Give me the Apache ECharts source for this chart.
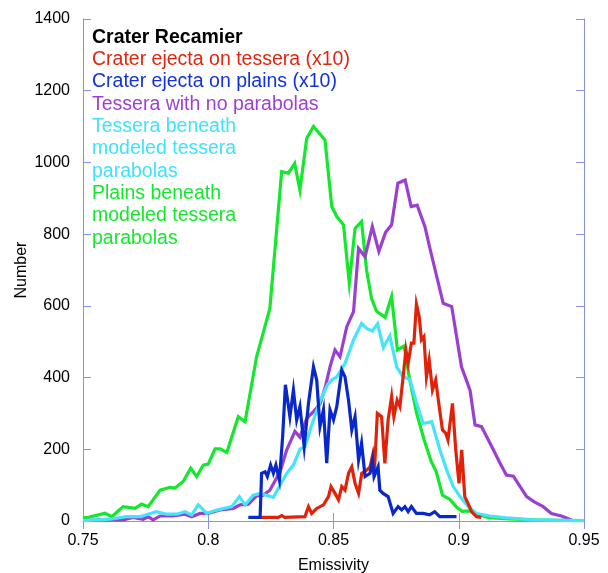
<!DOCTYPE html>
<html>
<head>
<meta charset="utf-8">
<title>Crater Recamier emissivity</title>
<script src="https://cdn.jsdelivr.net/npm/echarts@6/dist/echarts.min.js"></script>
<style>
  html, body { margin: 0; padding: 0; background: #fff; }
  #chart { width: 608px; height: 573px; }
</style>
</head>
<body>
<div id="chart"></div>
<script>
// x axis ticks / y axis ticks
const xTicks = [0.75, 0.8, 0.85, 0.9, 0.95]
const yTicks = [0, 200, 400, 600, 800, 1000, 1200, 1400]

const legendLines = [
  { text: 'Crater Recamier', color: '#000000', bold: true },
  { text: 'Crater ejecta on tessera (x10)', color: '#e0260e' },
  { text: 'Crater ejecta on plains (x10)', color: '#1232dc' },
  { text: 'Tessera with no parabolas', color: '#a040d2' },
  { text: 'Tessera beneath', color: '#3ee2fc' },
  { text: 'modeled tessera', color: '#3ee2fc' },
  { text: 'parabolas', color: '#3ee2fc' },
  { text: 'Plains beneath', color: '#14e82c' },
  { text: 'modeled tessera', color: '#14e82c' },
  { text: 'parabolas', color: '#14e82c' },
]

// [emissivity, number]
const plainsBeneath = [
  [0.750, 9], [0.7525, 11], [0.7588, 22], [0.7615, 12], [0.766, 40], [0.7708, 35],
  [0.7734, 47], [0.776, 40], [0.7808, 86], [0.7847, 94], [0.7867, 92], [0.790, 110],
  [0.793, 147], [0.7954, 124], [0.798, 156], [0.800, 159], [0.8027, 201], [0.8047, 201],
  [0.8074, 191], [0.812, 291], [0.8147, 277], [0.8193, 458], [0.8246, 593], [0.8293, 974],
  [0.832, 970], [0.8345, 997], [0.8366, 923], [0.8393, 1067], [0.842, 1100], [0.8466, 1063],
  [0.8493, 877], [0.8513, 849], [0.854, 826], [0.8563, 663], [0.8586, 816], [0.8612, 835],
  [0.8632, 700], [0.8652, 620], [0.8672, 585], [0.8706, 568], [0.8732, 626], [0.8755, 477],
  [0.8782, 488], [0.8802, 402], [0.8832, 300], [0.8862, 226], [0.889, 166], [0.891, 138],
  [0.8935, 72], [0.8965, 60], [0.8992, 38], [0.9014, 27], [0.9045, 28], [0.9071, 19],
  [0.912, 9], [0.92, 6], [0.93, 3], [0.94, 2], [0.95, 1],
]

const tesseraNoParabolas = [
  [0.750, 1], [0.7568, 3], [0.766, 3], [0.770, 10], [0.774, 5], [0.776, 12], [0.778, 3],
  [0.7808, 14], [0.786, 14], [0.7907, 19], [0.7934, 12], [0.7967, 21], [0.800, 21],
  [0.8047, 31], [0.810, 35], [0.8127, 45], [0.816, 47], [0.8193, 70], [0.822, 72],
  [0.8246, 86], [0.8287, 138], [0.8313, 198], [0.8346, 250], [0.8366, 234], [0.8393, 286],
  [0.842, 305], [0.8446, 326], [0.8466, 370], [0.8486, 430], [0.8506, 477], [0.8526, 458],
  [0.8553, 542], [0.858, 584], [0.860, 760], [0.8626, 737], [0.8655, 821], [0.8681, 752],
  [0.8708, 805], [0.8732, 826], [0.8757, 942], [0.8786, 951], [0.881, 877], [0.8834, 881],
  [0.8865, 821], [0.8885, 760], [0.8938, 607], [0.8972, 598], [0.9011, 430], [0.9045, 365],
  [0.9065, 268], [0.9091, 263], [0.9125, 217], [0.9165, 161], [0.919, 128], [0.9218, 125],
  [0.9271, 68], [0.930, 54], [0.9337, 40], [0.937, 21], [0.941, 14], [0.945, 3],
]

const tesseraBeneath = [
  [0.750, 1], [0.7608, 5], [0.7674, 12], [0.7727, 12], [0.7794, 26], [0.7834, 19],
  [0.7874, 19], [0.7907, 26], [0.7934, 17], [0.796, 45], [0.7994, 21], [0.8027, 29],
  [0.806, 35], [0.8094, 40], [0.8124, 68], [0.8147, 45], [0.818, 72], [0.8207, 77],
  [0.826, 66], [0.8313, 133], [0.834, 156], [0.8366, 200], [0.8386, 207], [0.8413, 268],
  [0.8446, 333], [0.8476, 380], [0.8493, 393], [0.8513, 402], [0.8546, 440], [0.858, 505],
  [0.8612, 551], [0.8632, 537], [0.8655, 530], [0.8676, 550], [0.8699, 484], [0.8725, 516],
  [0.8752, 430], [0.8778, 402], [0.8805, 395], [0.8832, 328], [0.8858, 272], [0.8892, 277],
  [0.8925, 198], [0.8952, 142], [0.8978, 96], [0.9005, 68], [0.9038, 40], [0.9071, 21],
  [0.9125, 14], [0.919, 9], [0.9297, 3], [0.95, 1],
]

const ejectaTessera = [
  [0.8207, 10], [0.828, 10], [0.8293, 15], [0.8306, 10], [0.8386, 12], [0.840, 40],
  [0.8413, 21], [0.8433, 35], [0.846, 45], [0.848, 68], [0.849, 96], [0.8506, 77],
  [0.852, 59], [0.8533, 96], [0.8546, 86], [0.856, 133], [0.8573, 151], [0.8586, 105],
  [0.860, 77], [0.8613, 133], [0.8633, 142], [0.8646, 151], [0.8658, 189], [0.8665, 161],
  [0.8675, 300], [0.8692, 291], [0.8705, 161], [0.8718, 282], [0.8732, 347], [0.8741, 291],
  [0.8754, 337], [0.8765, 319], [0.8778, 402], [0.8789, 477], [0.8798, 440], [0.8811, 496],
  [0.8821, 496], [0.8831, 605], [0.8842, 570], [0.8851, 505], [0.8861, 514], [0.8871, 402],
  [0.8882, 449], [0.8895, 365], [0.8908, 393], [0.8922, 319], [0.8935, 254], [0.8948, 245],
  [0.8957, 226], [0.8975, 328], [0.8988, 198], [0.9001, 105], [0.9012, 198], [0.9024, 68],
  [0.9037, 49], [0.9051, 26], [0.9071, 12], [0.909, 10],
]

const ejectaPlains = [
  [0.816, 10], [0.8207, 10], [0.8213, 133], [0.8227, 137], [0.8236, 124], [0.8249, 156],
  [0.826, 133], [0.827, 156], [0.8284, 114], [0.8297, 235], [0.8308, 380], [0.8313, 384],
  [0.8326, 291], [0.834, 365], [0.8353, 282], [0.8366, 319], [0.8383, 207], [0.840, 328],
  [0.842, 430], [0.8433, 393], [0.8446, 263], [0.846, 310], [0.8473, 161], [0.8486, 310],
  [0.850, 282], [0.8513, 319], [0.8533, 421], [0.8546, 402], [0.856, 337], [0.8573, 254],
  [0.8586, 291], [0.860, 170], [0.8612, 217], [0.8626, 124], [0.8646, 133], [0.8656, 170],
  [0.8662, 124], [0.8678, 151], [0.8685, 86], [0.8698, 77], [0.8718, 68], [0.8738, 21],
  [0.8758, 40], [0.8772, 31], [0.8785, 40], [0.8798, 26], [0.8811, 40], [0.8831, 21],
  [0.8858, 21], [0.8884, 17], [0.8904, 26], [0.8924, 12], [0.8991, 12],
]

const fontFamily = '"Liberation Sans", Arial, sans-serif'
const axisColor = '#8593e8'

const chart = echarts.init(document.getElementById('chart'))

const lineSeries = (name, data, color, z) => ({
  name,
  type: 'line',
  data,
  showSymbol: false,
  symbol: 'none',
  z,
  lineStyle: { color, width: 3.2, join: 'miter' },
  animation: false,
})

// 图例文字放在绘图区左上角
const legendGraphics = legendLines.map((l, i) => ({
  type: 'text',
  left: 92,
  top: 27.5 + i * 22.3,
  z: 100,
  style: {
    text: l.text,
    fill: l.color,
    font: (l.bold ? 'bold ' : '') + '19.5px ' + fontFamily,
  },
}))

const option = {
  animation: false,
  grid: { left: 83, right: 24, top: 19, bottom: 52, containLabel: false, outerBoundsMode: 'none' },
  xAxis: [
    {
      type: 'value',
      min: xTicks[0],
      max: xTicks[xTicks.length - 1],
      interval: 0.05,
      name: 'Emissivity',
      nameLocation: 'middle',
      nameGap: 37,
      nameMoveOverlap: false,
      nameTextStyle: { color: '#000', fontSize: 16, fontFamily },
      axisLine: { lineStyle: { color: axisColor, width: 1 } },
      axisTick: { inside: true, length: 8, lineStyle: { color: axisColor } },
      axisLabel: { color: '#000', fontSize: 16, fontFamily, margin: 12 },
      splitLine: { show: false },
    },
    {
      type: 'value',
      position: 'top',
      min: xTicks[0],
      max: xTicks[xTicks.length - 1],
      interval: 0.05,
      axisLine: { lineStyle: { color: axisColor, width: 1 } },
      axisTick: { inside: true, length: 8, lineStyle: { color: axisColor } },
      axisLabel: { show: false },
      splitLine: { show: false },
    },
  ],
  yAxis: [
    {
      type: 'value',
      min: yTicks[0],
      max: yTicks[yTicks.length - 1],
      interval: 200,
      name: 'Number',
      nameLocation: 'middle',
      nameGap: 53,
      nameMoveOverlap: false,
      nameTextStyle: { color: '#000', fontSize: 16, fontFamily },
      axisLine: { show: true, lineStyle: { color: axisColor, width: 1 } },
      axisTick: { show: true, inside: true, length: 8, lineStyle: { color: axisColor } },
      axisLabel: { color: '#000', fontSize: 16, fontFamily, margin: 13, formatter: v => String(v) },
      splitLine: { show: false },
    },
    {
      type: 'value',
      position: 'right',
      min: yTicks[0],
      max: yTicks[yTicks.length - 1],
      interval: 200,
      axisLine: { show: true, lineStyle: { color: axisColor, width: 1 } },
      axisTick: { show: true, inside: true, length: 8, lineStyle: { color: axisColor } },
      axisLabel: { show: false },
      splitLine: { show: false },
    },
  ],
  graphic: legendGraphics,
  series: [
    lineSeries('Plains beneath modeled tessera parabolas', plainsBeneath, '#14e82c', 2),
    lineSeries('Tessera with no parabolas', tesseraNoParabolas, '#9b3fd0', 3),
    lineSeries('Tessera beneath modeled tessera parabolas', tesseraBeneath, '#44e4fb', 4),
    lineSeries('Crater ejecta on tessera (x10)', ejectaTessera, '#e0220a', 5),
    lineSeries('Crater ejecta on plains (x10)', ejectaPlains, '#0a28c8', 6),
  ],
}

chart.setOption(option)
</script>
</body>
</html>
